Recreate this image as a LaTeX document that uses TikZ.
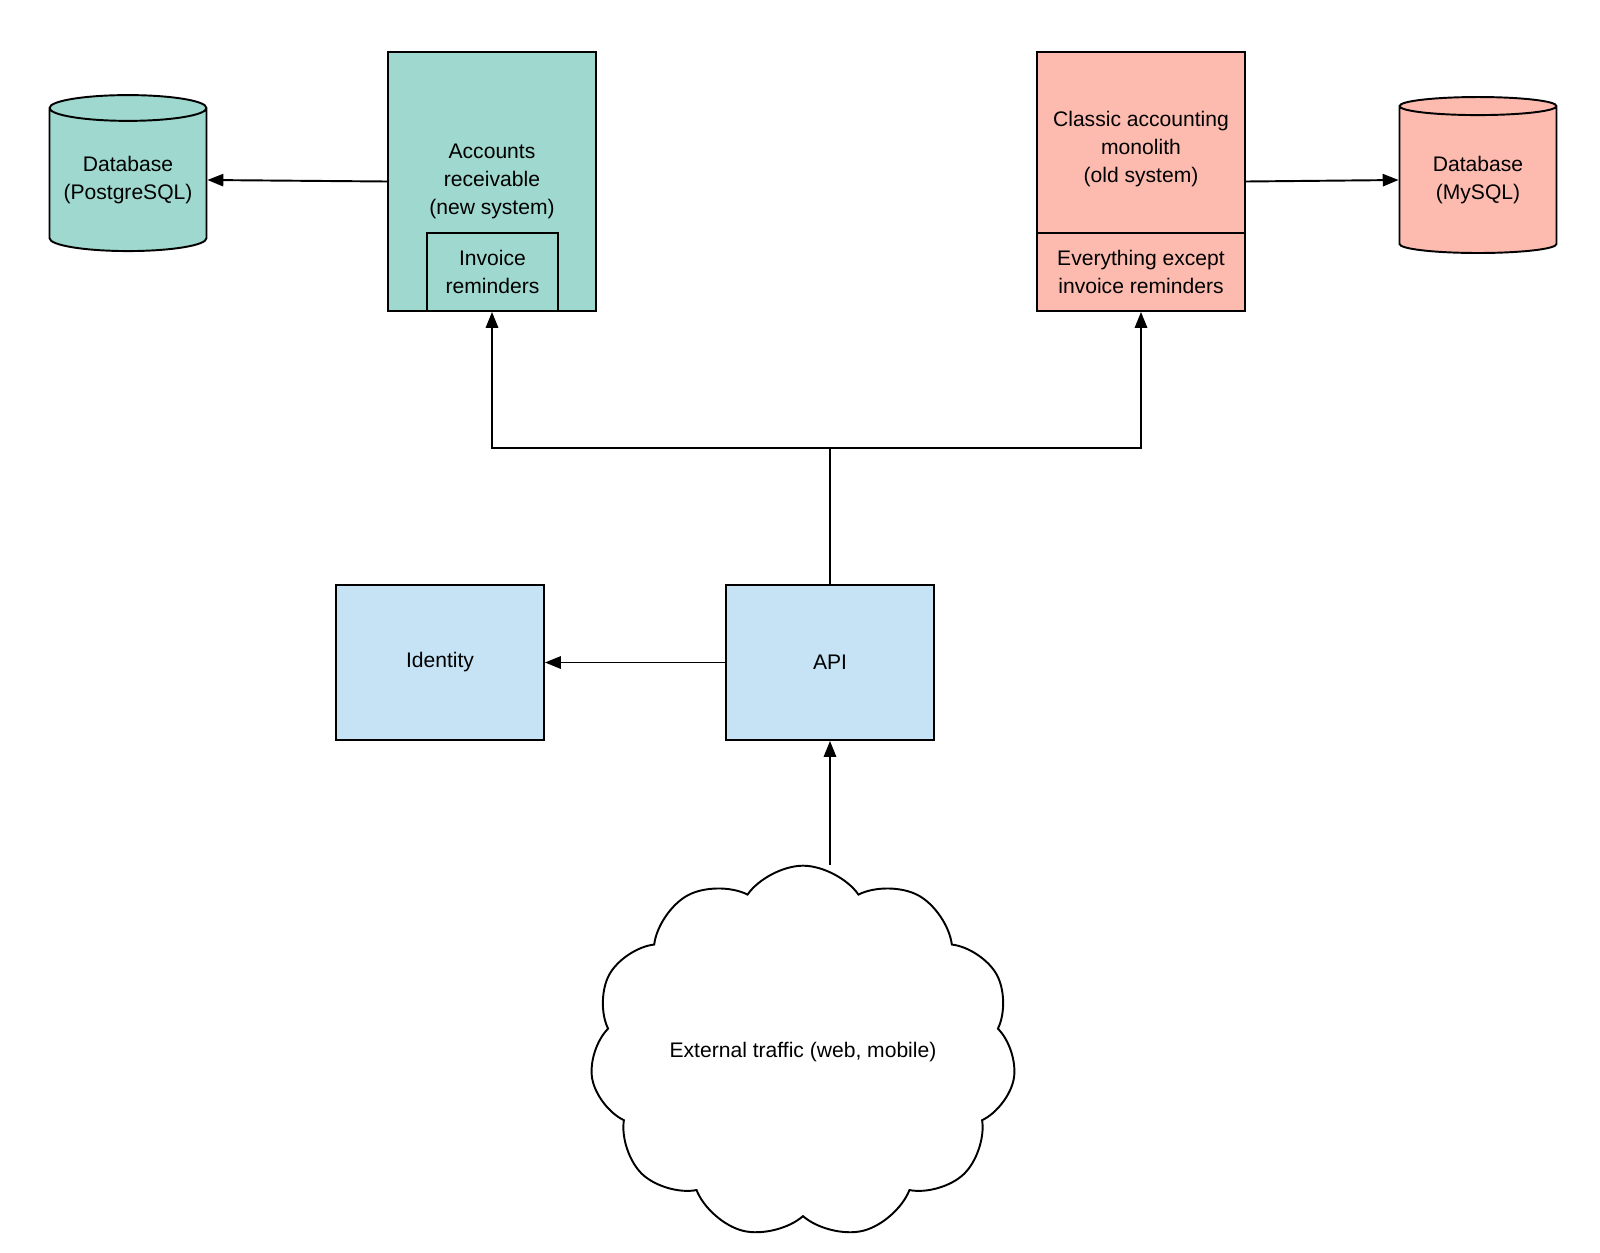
\documentclass[tikz,border=0pt]{standalone}
\usepackage{fontspec}
\setmainfont{Liberation Sans}
\usetikzlibrary{shapes.geometric,shapes.symbols,arrows.meta}
\definecolor{tealfill}{HTML}{9ED8CE}
\definecolor{salmonfill}{HTML}{FDBBB0}
\definecolor{bluefill}{HTML}{C5E3F5}
\begin{document}
\begin{tikzpicture}[
    x=0.02cm, y=-0.02cm,
    every node/.style={font=\fontsize{12}{16}\selectfont, align=center, line width=1.1pt},
    box/.style={rectangle, draw, inner sep=0pt},
    db/.style={cylinder, shape border rotate=90, draw, aspect=0.2, inner sep=0pt,
        minimum width=3.14cm, minimum height=3.12cm},
    flow/.style={-{Triangle[length=9pt,width=7pt]}, line width=1.1pt}
]
    \useasboundingbox (0,0) rectangle (1600,1252);

    % Databases
    \node[db, fill=tealfill] (pgdb) at (128,180) {Database\\(PostgreSQL)};
    \node[db, fill=salmonfill] (mydb) at (1478,180) {Database\\(MySQL)};

    % Systems
    \node[box, fill=tealfill, minimum width=4.16cm, minimum height=5.18cm] (ar) at (492,181.5) {Accounts\\receivable\\(new system)};
    \node[box, minimum width=2.62cm, minimum height=1.56cm] (reminders) at (492.5,272) {Invoice\\reminders};
    \node[box, fill=salmonfill, minimum width=4.16cm, minimum height=5.18cm] (classic) at (1141,181.5) {};
    \node[box, minimum width=4.16cm, minimum height=3.62cm] (classictop) at (1141,142.5) {\\Classic accounting\\monolith\\(old system)};
    \node[box, minimum width=4.16cm, minimum height=1.56cm] (everything) at (1141,272) {Everything except\\invoice reminders};

    \node[box, fill=bluefill, minimum width=4.16cm, minimum height=3.1cm] (identity) at (440,662.5) {Identity};
    \node[box, fill=bluefill, minimum width=4.16cm, minimum height=3.1cm] (api) at (830,662.5) {API};

    \node[cloud, draw, cloud puffs=11, cloud puff arc=110, aspect=1.2, minimum width=7.2cm, minimum height=5.7cm] (traffic) at (803,1052) {External traffic (web, mobile)};

    % Connectors
    \coordinate (split) at (830,448);
    \draw[flow] (ar.west) -- (pgdb.east);
    \draw[flow] (classic.east) -- (mydb.west);
    \draw[line width=1.1pt] (api.north) -- (split);
    \draw[flow] (split) -| (ar.south);
    \draw[flow] (split) -| (classic.south);
    \draw[flow] (api.west) -- (identity.east);
    \draw[flow] (traffic.north -| api.south) -- (api.south);
\end{tikzpicture}
\end{document}
